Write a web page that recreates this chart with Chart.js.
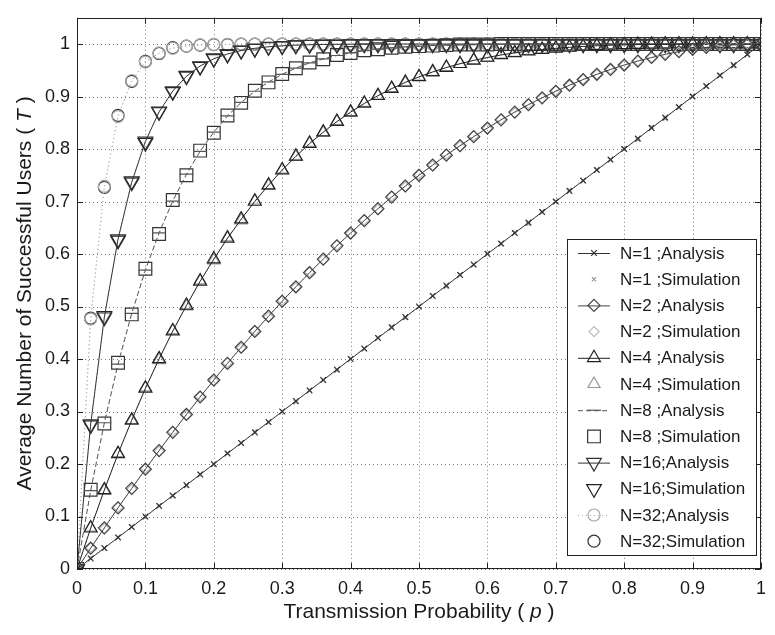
<!DOCTYPE html>
<html>
<head>
<meta charset="utf-8">
<script src="https://cdn.jsdelivr.net/npm/chart.js@4.4.1/dist/chart.umd.min.js"></script>
<style>
html, body { margin: 0; padding: 0; background: #fff; }
</style>
</head>
<body>
<canvas id="chart" width="775" height="635"></canvas>
<script>
// transmission probability p (x axis)
var pValues = [0, .02, .04, .06, .08, .10, .12, .14, .16, .18, .20, .22, .24, .26, .28, .30, .32, .34, .36, .38, .40,
	.42, .44, .46, .48, .50, .52, .54, .56, .58, .60, .62, .64, .66, .68, .70, .72, .74, .76, .78, .80,
	.82, .84, .86, .88, .90, .92, .94, .96, .98, 1];

// analysis curves
var n1Analysis = [0, .02, .04, .06, .08, .10, .12, .14, .16, .18, .20, .22, .24, .26, .28, .30, .32, .34, .36, .38, .40,
	.42, .44, .46, .48, .50, .52, .54, .56, .58, .60, .62, .64, .66, .68, .70, .72, .74, .76, .78, .80,
	.82, .84, .86, .88, .90, .92, .94, .96, .98, 1];
var n2Analysis = [0, .0396, .0784, .1164, .1536, .19, .2256, .2604, .2944, .3276, .36, .3916, .4224, .4524, .4816, .51,
	.5376, .5644, .5904, .6156, .64, .6636, .6864, .7084, .7296, .75, .7696, .7884, .8064, .8236, .84,
	.8556, .8704, .8844, .8976, .91, .9216, .9324, .9424, .9516, .96, .9676, .9744, .9804, .9856, .99,
	.9936, .9964, .9984, .9996, 1];
var n4Analysis = [0, .0776, .1507, .2193, .2836, .3439, .4003, .4530, .5021, .5479, .5904, .6299, .6664, .7001, .7313,
	.7599, .7862, .8103, .8322, .8522, .8704, .8868, .9017, .9150, .9269, .9375, .9469, .9552, .9625,
	.9689, .9744, .9792, .9832, .9866, .9895, .9919, .9938, .9954, .9967, .9977, .9984, .9990, .9993,
	.9996, .9998, .9999, 1, 1, 1, 1, 1];
var n8Analysis = [0, .1492, .2786, .3904, .4868, .5695, .6404, .7008, .7521, .7956, .8322, .8630, .8887, .9101, .9278,
	.9424, .9543, .9640, .9719, .9782, .9832, .9872, .9903, .9928, .9947, .9961, .9972, .9980, .9986,
	.9990, .9993, .9996, .9997, .9998, .9999, .9999, 1, 1, 1, 1, 1, 1, 1, 1, 1, 1, 1, 1, 1, 1, 1];
var n16Analysis = [0, .2762, .4796, .6284, .7366, .8147, .8707, .9105, .9386, .9582, .9719, .9812, .9876, .9919, .9948,
	.9967, .9979, .9987, .9992, .9995, .9997, .9998, .9999, .9999, 1, 1, 1, 1, 1, 1, 1, 1, 1, 1, 1, 1,
	1, 1, 1, 1, 1, 1, 1, 1, 1, 1, 1, 1, 1, 1, 1];
var n32Analysis = [0, .4761, .7292, .8619, .9306, .9657, .9833, .9920, .9962, .9983, .9992, .9996, .9998, .9999, 1, 1,
	1, 1, 1, 1, 1, 1, 1, 1, 1, 1, 1, 1, 1, 1, 1, 1, 1, 1, 1, 1, 1, 1, 1, 1, 1, 1, 1, 1, 1, 1, 1, 1, 1, 1, 1];

// simulation points
var n1Simulation = [0, .021, .039, .061, .080, .099, .121, .139, .158, .181, .199, .221, .240, .262, .279, .300, .318,
	.341, .360, .378, .401, .419, .441, .462, .478, .499, .521, .538, .561, .579, .602, .619, .641, .658,
	.681, .699, .722, .739, .761, .779, .801, .818, .842, .858, .879, .901, .919, .941, .958, .981, 1];
var n2Simulation = [0, .041, .077, .118, .152, .192, .224, .262, .293, .329, .358, .393, .421, .454, .480, .512, .536,
	.566, .589, .617, .639, .665, .685, .710, .728, .752, .768, .790, .805, .825, .839, .857, .869, .886,
	.897, .911, .921, .933, .942, .952, .960, .968, .974, .981, .985, .990, .994, .996, .998, 1, 1];
var n4Simulation = [0, .079, .149, .221, .282, .346, .398, .455, .500, .550, .588, .632, .664, .702, .730, .761, .785,
	.812, .831, .853, .869, .888, .901, .916, .926, .938, .946, .956, .962, .969, .974, .980, .983, .987,
	.989, .992, .994, .995, .997, .998, .998, .999, .999, 1, 1, 1, 1, 1, 1, 1, 1];
var n8Simulation = [0, .151, .277, .393, .485, .572, .638, .703, .750, .797, .831, .864, .888, .911, .927, .943, .954,
	.965, .971, .979, .983, .988, .990, .993, .995, .996, .997, .998, .999, .999, .999, 1, 1, 1, 1, 1,
	1, 1, 1, 1, 1, 1, 1, 1, 1, 1, 1, 1, 1, 1, 1];
var n16Simulation = [0, .274, .482, .626, .739, .812, .872, .909, .940, .957, .973, .980, .988, .991, .995, .996, .998,
	.999, .999, .999, 1, 1, 1, 1, 1, 1, 1, 1, 1, 1, 1, 1, 1, 1, 1, 1, 1, 1, 1, 1, 1, 1, 1, 1, 1, 1,
	1, 1, 1, 1, 1];
var n32Simulation = [0, .478, .727, .864, .929, .967, .982, .993, .996, .998, .999, .999, 1, 1, 1, 1, 1, 1, 1, 1, 1,
	1, 1, 1, 1, 1, 1, 1, 1, 1, 1, 1, 1, 1, 1, 1, 1, 1, 1, 1, 1, 1, 1, 1, 1, 1, 1, 1, 1, 1, 1];

var xTicks = [0, 0.1, 0.2, 0.3, 0.4, 0.5, 0.6, 0.7, 0.8, 0.9, 1];
var yTicks = [0, 0.1, 0.2, 0.3, 0.4, 0.5, 0.6, 0.7, 0.8, 0.9, 1];

var seriesLabels = ['N=1 ;Analysis', 'N=1 ;Simulation', 'N=2 ;Analysis', 'N=2 ;Simulation',
	'N=4 ;Analysis', 'N=4 ;Simulation', 'N=8 ;Analysis', 'N=8 ;Simulation',
	'N=16;Analysis', 'N=16;Simulation', 'N=32;Analysis', 'N=32;Simulation'];

var FONT = "'Liberation Sans', Arial, sans-serif";

function toPoints(ys) {
	return pValues.map(function (x, i) { return {x: x, y: ys[i]}; });
}

function analysisSet(label, ys, style, radius, rotation, color, dash) {
	return {
		label: label, data: toPoints(ys), showLine: true,
		borderColor: color, borderWidth: 1, borderDash: dash || [],
		pointStyle: style, pointRadius: radius, pointRotation: rotation || 0,
		pointBorderColor: color, pointBackgroundColor: 'rgba(0,0,0,0)', pointBorderWidth: 1.2,
		legendLine: true
	};
}

function simulationSet(label, ys, style, radius, rotation, color) {
	return {
		label: label, data: toPoints(ys), showLine: true,
		borderColor: '#aaa', borderWidth: 1, borderDash: [1, 3],
		pointStyle: style, pointRadius: radius, pointRotation: rotation || 0,
		pointBorderColor: color, pointBackgroundColor: 'rgba(0,0,0,0)', pointBorderWidth: 1.2,
		legendLine: false
	};
}

var datasets = [
	analysisSet(seriesLabels[0], n1Analysis, 'crossRot', 4, 0, '#333'),
	simulationSet(seriesLabels[1], n1Simulation, 'crossRot', 3, 0, '#999'),
	analysisSet(seriesLabels[2], n2Analysis, 'rectRot', 6, 0, '#444'),
	simulationSet(seriesLabels[3], n2Simulation, 'rectRot', 5, 0, '#bbb'),
	analysisSet(seriesLabels[4], n4Analysis, 'triangle', 7.5, 0, '#222'),
	simulationSet(seriesLabels[5], n4Simulation, 'triangle', 7, 0, '#999'),
	analysisSet(seriesLabels[6], n8Analysis, 'line', 7, 0, '#555', [5, 3]),
	simulationSet(seriesLabels[7], n8Simulation, 'rect', 9, 0, '#333'),
	analysisSet(seriesLabels[8], n16Analysis, 'triangle', 8.5, 180, '#333'),
	simulationSet(seriesLabels[9], n16Simulation, 'triangle', 8.5, 180, '#222'),
	analysisSet(seriesLabels[10], n32Analysis, 'circle', 6, 0, '#aaa', [1, 3]),
	simulationSet(seriesLabels[11], n32Simulation, 'circle', 6, 0, '#333')
];

function drawMixed(ctx, parts, cx, cy) {
	var total = 0;
	parts.forEach(function (pt) { ctx.font = pt.font; total += ctx.measureText(pt.text).width; });
	var x = cx - total / 2;
	ctx.textAlign = 'left';
	ctx.textBaseline = 'middle';
	parts.forEach(function (pt) {
		ctx.font = pt.font;
		ctx.fillText(pt.text, x, cy);
		x += ctx.measureText(pt.text).width;
	});
}

var framePlugin = {
	id: 'frame',
	beforeDatasetsDraw: function (chart) {
		// dotted grid, MATLAB style
		var ctx = chart.ctx, a = chart.chartArea;
		var xs = chart.scales.x, ys = chart.scales.y;
		ctx.save();
		ctx.strokeStyle = '#7a7a7a';
		ctx.lineWidth = 1;
		ctx.setLineDash([1, 3]);
		ctx.beginPath();
		xTicks.forEach(function (v) {
			var px = Math.round(xs.getPixelForValue(v)) + 0.5;
			ctx.moveTo(px, a.top); ctx.lineTo(px, a.bottom);
		});
		yTicks.forEach(function (v) {
			var py = Math.round(ys.getPixelForValue(v)) + 0.5;
			ctx.moveTo(a.left, py); ctx.lineTo(a.right, py);
		});
		ctx.stroke();
		ctx.restore();
	},
	afterDatasetsDraw: function (chart) {
		var ctx = chart.ctx, a = chart.chartArea;
		var xs = chart.scales.x, ys = chart.scales.y;
		ctx.save();
		ctx.strokeStyle = '#222';
		ctx.lineWidth = 1;
		ctx.setLineDash([]);
		ctx.strokeRect(Math.round(a.left) + 0.5, Math.round(a.top) + 0.5,
			Math.round(a.right - a.left) - 1, Math.round(a.bottom - a.top) - 1);
		// inward ticks on all four sides
		ctx.beginPath();
		xTicks.forEach(function (v) {
			var px = Math.round(xs.getPixelForValue(v)) + 0.5;
			ctx.moveTo(px, a.bottom); ctx.lineTo(px, a.bottom - 6);
			ctx.moveTo(px, a.top); ctx.lineTo(px, a.top + 6);
		});
		yTicks.forEach(function (v) {
			var py = Math.round(ys.getPixelForValue(v)) + 0.5;
			ctx.moveTo(a.left, py); ctx.lineTo(a.left + 6, py);
			ctx.moveTo(a.right, py); ctx.lineTo(a.right - 6, py);
		});
		ctx.stroke();
		ctx.restore();
	},
	afterDraw: function (chart) {
		var ctx = chart.ctx, a = chart.chartArea;
		ctx.save();
		ctx.fillStyle = '#1a1a1a';
		// axis titles
		drawMixed(ctx, [
			{text: 'Transmission Probability ( ', font: '21px ' + FONT},
			{text: 'p', font: 'italic 21px ' + FONT},
			{text: ' )', font: '21px ' + FONT}
		], (a.left + a.right) / 2, 612);
		ctx.translate(25, (a.top + a.bottom) / 2);
		ctx.rotate(-Math.PI / 2);
		drawMixed(ctx, [
			{text: 'Average Number of Successful Users ( ', font: '21px ' + FONT},
			{text: 'T', font: 'italic 21px ' + FONT},
			{text: ' )', font: '21px ' + FONT}
		], 0, 0);
		ctx.restore();

		// legend box
		var bx = 567, by = 239, bw = 189, bh = 316, step = 26.2, y0 = 253;
		ctx.save();
		ctx.fillStyle = '#fff';
		ctx.fillRect(bx, by, bw, bh);
		ctx.strokeStyle = '#222';
		ctx.lineWidth = 1;
		ctx.strokeRect(bx + 0.5, by + 0.5, bw, bh);
		chart.data.datasets.forEach(function (ds, i) {
			var cy = y0 + i * step;
			if (ds.legendLine) {
				ctx.strokeStyle = ds.borderColor;
				ctx.lineWidth = 1;
				ctx.setLineDash(ds.borderDash);
				ctx.beginPath();
				ctx.moveTo(578, cy + 0.5);
				ctx.lineTo(610, cy + 0.5);
				ctx.stroke();
			}
			ctx.setLineDash([]);
			ctx.strokeStyle = ds.pointBorderColor;
			ctx.fillStyle = 'rgba(0,0,0,0)';
			ctx.lineWidth = ds.pointBorderWidth;
			Chart.helpers.drawPoint(ctx, {
				pointStyle: ds.pointStyle, radius: ds.pointRadius,
				rotation: ds.pointRotation, borderWidth: ds.pointBorderWidth
			}, 594, cy);
			ctx.fillStyle = '#1a1a1a';
			ctx.font = '17px ' + FONT;
			ctx.textAlign = 'left';
			ctx.textBaseline = 'middle';
			ctx.fillText(ds.label, 620, cy + 1);
		});
		ctx.restore();
	}
};

new Chart(document.getElementById('chart').getContext('2d'), {
	type: 'scatter',
	data: {datasets: datasets},
	options: {
		responsive: false,
		animation: false,
		devicePixelRatio: 1,
		layout: {padding: {left: 0, top: 14, right: 4, bottom: 0}},
		plugins: {legend: {display: false}, tooltip: {enabled: false}},
		scales: {
			x: {
				type: 'linear', min: 0, max: 1,
				border: {display: false},
				grid: {display: false, drawTicks: false},
				ticks: {
					stepSize: 0.1, padding: 9, color: '#1a1a1a',
					font: {family: FONT, size: 18},
					callback: function (v) { return String(Number(v.toFixed(1))); }
				},
				afterFit: function (s) { s.height = 66; }
			},
			y: {
				type: 'linear', min: 0, max: 1.05,
				border: {display: false},
				grid: {display: false, drawTicks: false},
				ticks: {
					stepSize: 0.1, padding: 7, color: '#1a1a1a',
					font: {family: FONT, size: 18},
					callback: function (v) { return String(Number(v.toFixed(1))); }
				},
				afterBuildTicks: function (s) {
					s.ticks = s.ticks.filter(function (t) { return t.value <= 1.0001; });
				},
				afterFit: function (s) { s.width = 77; }
			}
		}
	},
	plugins: [framePlugin]
});
</script>
</body>
</html>
